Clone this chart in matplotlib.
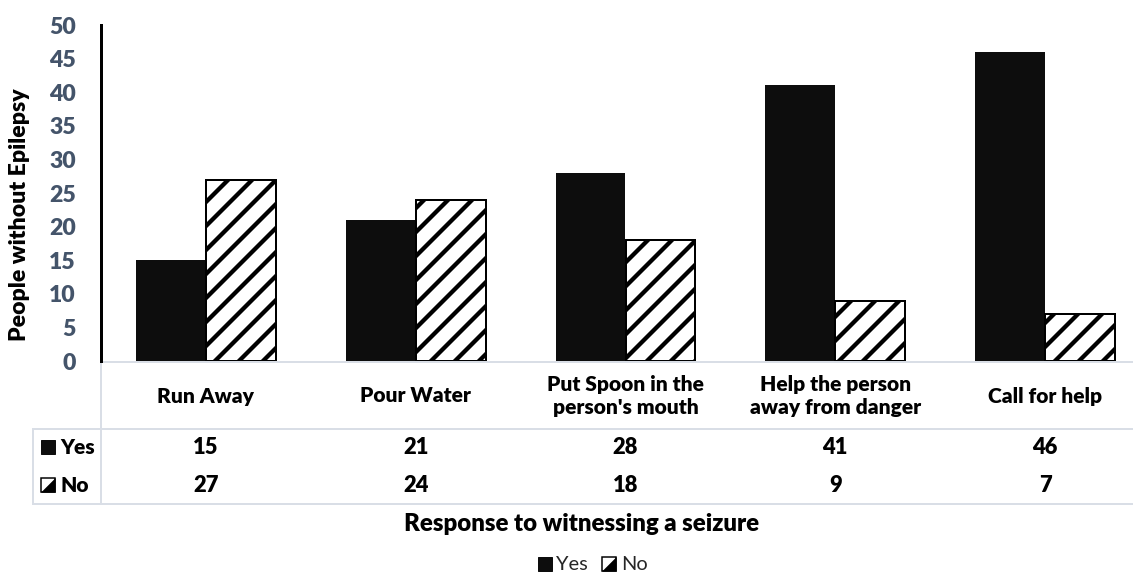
import matplotlib
matplotlib.use('Agg')
import matplotlib.pyplot as plt
from matplotlib.patches import Rectangle, Polygon
from matplotlib.lines import Line2D
import matplotlib.transforms as mtransforms
import numpy as np

categories = ["Run Away", "Pour Water", "Put Spoon in the\nperson's mouth",
              "Help the person\naway from danger", "Call for help"]
yes_values = [15, 21, 28, 41, 46]
no_values = [27, 24, 18, 9, 7]
y_ticks = [0, 5, 10, 15, 20, 25, 30, 35, 40, 45, 50]
series_names = ["Yes", "No"]
x_title = "Response to witnessing a seizure"
y_title = "People without Epilepsy"

W, H = 1133, 573
DPI = 72
plt.rcParams['font.family'] = ['Lato', 'DejaVu Sans']
plt.rcParams['hatch.linewidth'] = 4.3

fig = plt.figure(figsize=(W / DPI, H / DPI), dpi=DPI)
fig.patch.set_facecolor('white')

tax = fig.add_axes([0, 0, 1, 1], zorder=0)
tax.set_xlim(0, W)
tax.set_ylim(H, 0)
tax.set_axis_off()

ax = fig.add_axes([101 / W, 1 - 361 / H, 1049 / W, 336 / H], zorder=1)
ax.patch.set_alpha(0)
x = np.arange(len(categories))
bw = 1 / 3
ax.bar(x - bw / 2, yes_values, bw, color='#0d0d0d', edgecolor='#0d0d0d', linewidth=0)
ax.bar(x + bw / 2, no_values, bw, color='white', edgecolor='black', hatch='/', linewidth=2)
ax.set_xlim(-0.5, len(categories) - 0.5)
ax.set_ylim(0, 50)
ax.set_yticks(y_ticks)
ax.set_xticks([])
ax.tick_params(axis='y', length=0, pad=25, labelsize=23, labelcolor='#44546A')
for lab in ax.get_yticklabels():
    lab.set_fontweight('heavy')
for s in ['top', 'right', 'bottom']:
    ax.spines[s].set_visible(False)
ax.spines['left'].set_linewidth(3)
ax.spines['left'].set_color('black')

lc = '#D9DEE6'
tax.add_line(Line2D([101, W], [362, 362], color=lc, lw=2))
tax.add_line(Line2D([33, W], [429, 429], color=lc, lw=2))
tax.add_line(Line2D([33, W], [504, 504], color=lc, lw=2))
tax.add_line(Line2D([101, 101], [362, 504], color=lc, lw=2))
tax.add_line(Line2D([33, 33], [429, 504], color=lc, lw=2))

trans = mtransforms.blended_transform_factory(ax.transData, tax.transData)
for i, c in enumerate(categories):
    ax.text(i, 396, c, transform=trans, ha='center', va='center', fontsize=21,
            fontweight='heavy', linespacing=1.3, clip_on=False)
    ax.text(i, 447, str(yes_values[i]), transform=trans, ha='center', va='center',
            fontsize=22, fontweight='heavy', clip_on=False)
    ax.text(i, 486, str(no_values[i]), transform=trans, ha='center', va='center',
            fontsize=22, fontweight='heavy', clip_on=False)


def key_yes(x0, y0, s):
    tax.add_patch(Rectangle((x0, y0), s, s, facecolor='#0d0d0d', edgecolor='#0d0d0d', lw=1))


def key_no(x0, y0, s):
    tax.add_patch(Rectangle((x0, y0), s, s, facecolor='white', edgecolor='black', lw=1.5))
    tax.add_patch(Polygon([(x0 + s, y0), (x0 + s, y0 + s), (x0, y0 + s)], closed=True,
                          facecolor='black', edgecolor='black', lw=0.5))


key_yes(41, 440, 14)
tax.text(60, 447, series_names[0], ha='left', va='center', fontsize=21, fontweight='heavy')
key_no(41, 478, 14)
tax.text(60, 486, series_names[1], ha='left', va='center', fontsize=21, fontweight='heavy')

tax.text(582, 524, x_title, ha='center', va='center', fontsize=24, fontweight='heavy')
tax.text(20, 215, y_title, ha='center', va='center', rotation=90, fontsize=23, fontweight='heavy')

key_yes(538, 557, 14)
tax.text(556, 564, series_names[0], ha='left', va='center', fontsize=20, color='#262626')
key_no(602, 557, 14)
tax.text(621, 564, series_names[1], ha='left', va='center', fontsize=20, color='#262626')

fig.savefig('out.png', dpi=DPI, facecolor='white')
